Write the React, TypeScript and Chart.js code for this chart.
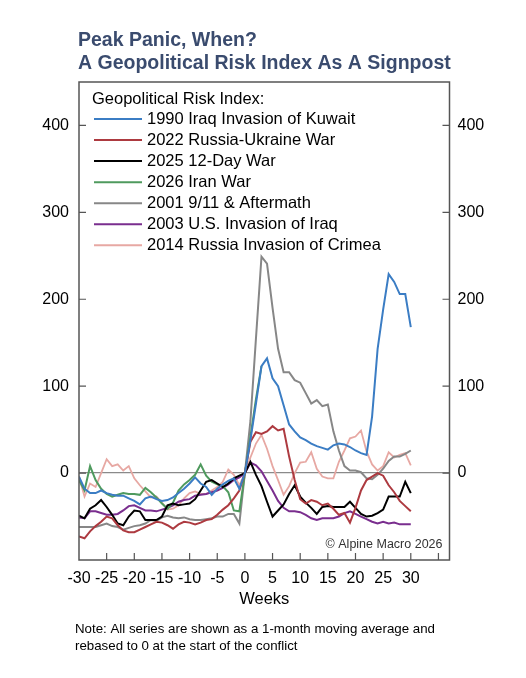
import { useEffect, useRef } from "react"
import React from "react"
import { Chart, registerables } from "chart.js"

Chart.register(...registerables)

const FONT = "'Liberation Sans', Arial, Helvetica, sans-serif"

// weeks relative to the start of each conflict
const weeks = [
    -30, -29, -28, -27, -26, -25, -24, -23, -22, -21, -20, -19, -18, -17, -16, -15,
    -14, -13, -12, -11, -10, -9, -8, -7, -6, -5, -4, -3, -2, -1, 0,
    1, 2, 3, 4, 5, 6, 7, 8, 9, 10, 11, 12, 13, 14, 15,
    16, 17, 18, 19, 20, 21, 22, 23, 24, 25, 26, 27, 28, 29, 30,
]

const kuwait1990 = [
    -4, -18, -23, -23, -20, -23, -25, -26, -26, -29, -32, -36, -29, -27, -30, -32,
    -31, -28, -23, -18, -12, -5, -12, -16, -25, -18, -13, -9, -6, -18, 0,
    38, 80, 123, 132, 109, 100, 78, 56, 48, 41, 38, 34, 31, 29, 27,
    32, 34, 33, 30, 26, 23, 21, 65, 143, 188, 229, 220, 206, 206, 168,
]
const ukraine2022 = [
    -73, -75, -67, -61, -56, -50, -52, -60, -66, -68, -68, -65, -62, -59, -56, -57,
    -60, -64, -59, -56, -57, -59, -57, -54, -53, -48, -42, -37, -29, -20, 0,
    36, 47, 45, 48, 54, 49, 51, 19, -8, -30, -35, -31, -33, -37, -35,
    -41, -48, -46, -57, -40, -20, -8, -4, 0, -3, -14, -22, -32, -38, -44,
]
const twelveDay2025 = [
    -49, -52, -41, -37, -31, -39, -48, -58, -60, -50, -43, -44, -54, -54, -54, -50,
    -37, -35, -37, -36, -35, -30, -20, -10, -8, -12, -16, -12, -6, -3, 0,
    13, -2, -15, -33, -50, -43, -36, -24, -14, -27, -34, -40, -47, -39, -38,
    -39, -39, -39, -33, -40, -47, -50, -49, -46, -42, -27, -27, -27, -10, -23,
]
const iran2026 = [
    -8, -20, 8, -8, -18, -24, -27, -25, -23, -24, -24, -25, -17, -22, -28, -35,
    -41, -34, -20, -13, -8, -2, 10, -3, -10, -13, -15, -22, -43, -44, 0,
    42, 85, 123,
]
const sept2001 = [
    -62, -62, -62, -62, -60, -58, -61, -62, -65, -63, -61, -60, -58, -54, -55, -51,
    -49, -51, -52, -51, -53, -54, -54, -53, -52, -50, -50, -47, -47, -58, 0,
    60, 155, 249, 241, 190, 143, 116, 116, 107, 104, 92, 80, 84, 77, 79,
    48, 26, 8, 3, 3, 1, -6, -7, -2, 5, 14, 19, 19, 22, 26,
]
const iraq2003 = [
    -51, -52, -44, -44, -46, -48, -48, -47, -43, -38, -37, -40, -43, -43, -44, -42,
    -40, -37, -33, -31, -30, -26, -25, -24, -22, -20, -17, -13, -8, -5, 0,
    12, 9, 2, -9, -20, -32, -40, -44, -44, -45, -48, -52, -54, -52, -52,
    -52, -50, -46, -44, -47, -50, -53, -56, -58, -56, -58, -57, -59, -59, -59,
]
const crimea2014 = [
    -4, -27, -12, -16, 0, 16, 8, 10, 3, 8, -6, -14, -21, -28, -27, -34,
    -42, -41, -37, -29, -23, -21, -24, -24, -20, -16, -10, 4, -2, -14, 0,
    18, 34, 44, 28, 8, -8, -25, -15, 0, 12, 13, 24, 5, -4, -6,
    -6, 13, 26, 40, 42, 49, 25, 10, 3, 8, 24, 18, 21, 23, 9,
]

const seriesLabels = [
    "1990 Iraq Invasion of Kuwait",
    "2022 Russia-Ukraine War",
    "2025 12-Day War",
    "2026 Iran War",
    "2001 9/11 & Aftermath",
    "2003 U.S. Invasion of Iraq",
    "2014 Russia Invasion of Crimea",
]
const seriesValues = [kuwait1990, ukraine2022, twelveDay2025, iran2026, sept2001, iraq2003, crimea2014]
const seriesColors = ["#3b7dc4", "#ad3a40", "#000000", "#4f9a5e", "#878787", "#7a2e8e", "#e7a8a3"]

const yTicks = [0, 100, 200, 300, 400]
const xTicks = [-25, -20, -15, -10, -5, 0, 5, 10, 15, 20, 25, 30, 35]

const titleLines = ["Peak Panic, When?", "A Geopolitical Risk Index As A Signpost"]
const noteLines = [
    "Note: All series are shown as a 1-month moving average and",
    "rebased to 0 at the start of the conflict",
]

const decorations = {
    id: "decorations",
    afterDraw(chart: Chart) {
        const { ctx, chartArea } = chart
        const { left, right, top, bottom } = chartArea
        const xs = chart.scales.x
        const ys = chart.scales.y
        ctx.save()

        // frame
        ctx.strokeStyle = "#555555"
        ctx.lineWidth = 1.5
        ctx.strokeRect(left, top, right - left, bottom - top)

        // inward tick marks
        ctx.lineWidth = 1.2
        ctx.beginPath()
        xTicks.forEach(v => {
            const px = xs.getPixelForValue(v)
            ctx.moveTo(px, bottom)
            ctx.lineTo(px, bottom - 7)
        })
        yTicks.forEach(v => {
            const py = ys.getPixelForValue(v)
            ctx.moveTo(left, py)
            ctx.lineTo(left + 7, py)
            ctx.moveTo(right, py)
            ctx.lineTo(right - 7, py)
        })
        ctx.stroke()

        // title
        ctx.fillStyle = "#3a4b6e"
        ctx.font = `bold 19.5px ${FONT}`
        ctx.textAlign = "left"
        ctx.textBaseline = "alphabetic"
        ctx.fillText(titleLines[0], 78, 46)
        ctx.fillText(titleLines[1], 78, 69)

        // legend inside plot
        ctx.fillStyle = "#000"
        ctx.font = `16.5px ${FONT}`
        ctx.fillText("Geopolitical Risk Index:", left + 13, top + 22)
        ctx.textBaseline = "middle"
        chart.data.datasets.forEach((ds, i) => {
            const y = top + 37 + i * 21.05
            ctx.strokeStyle = ds.borderColor as string
            ctx.lineWidth = 2
            ctx.beginPath()
            ctx.moveTo(left + 15, y)
            ctx.lineTo(left + 63, y)
            ctx.stroke()
            ctx.fillStyle = "#000"
            ctx.fillText(ds.label as string, left + 68, y)
        })

        // copyright
        ctx.fillStyle = "#333"
        ctx.font = `12.5px ${FONT}`
        ctx.textAlign = "right"
        ctx.fillText("\u00a9 Alpine Macro 2026", right - 7, bottom - 15)

        // note
        ctx.fillStyle = "#000"
        ctx.font = `13.3px ${FONT}`
        ctx.textAlign = "left"
        ctx.fillText(noteLines[0], 75, 629)
        ctx.fillText(noteLines[1], 75, 646)
        ctx.restore()
    },
}

const RiskChart: React.FC = () => {
    const canvasRef = useRef<HTMLCanvasElement>(null)
    const chartRef = useRef<Chart>()

    useEffect(() => {
        if (!canvasRef.current) return
        const ctx = canvasRef.current.getContext("2d")
        if (!ctx) return

        chartRef.current = new Chart(ctx, {
            type: "line",
            data: {
                datasets: seriesLabels.map((label, i) => ({
                    label,
                    data: seriesValues[i].map((v, j) => ({ x: weeks[j], y: v })),
                    borderColor: seriesColors[i],
                    backgroundColor: seriesColors[i],
                    borderWidth: i === 6 ? 1.8 : 2,
                    pointRadius: 0,
                    tension: 0,
                    fill: false,
                })),
            },
            options: {
                responsive: false,
                animation: false,
                layout: { padding: { top: 82, bottom: 68, left: 0, right: 0 } },
                plugins: {
                    legend: { display: false },
                    tooltip: { enabled: false },
                },
                scales: {
                    x: {
                        type: "linear",
                        min: -30,
                        max: 37,
                        border: { display: false },
                        grid: { display: false },
                        ticks: {
                            stepSize: 5,
                            includeBounds: false,
                            autoSkip: false,
                            maxRotation: 0,
                            padding: 1,
                            color: "#000",
                            font: { family: FONT, size: 16 },
                            callback: v => (Number(v) <= 30 ? String(v) : ""),
                        },
                        title: {
                            display: true,
                            text: "Weeks",
                            color: "#000",
                            padding: { top: 0, bottom: 1 },
                            font: { family: FONT, size: 16.5 },
                        },
                        afterFit: s => { s.height = 50 },
                    },
                    y: {
                        position: "left",
                        min: -100,
                        max: 450,
                        border: { display: false },
                        grid: {
                            drawTicks: false,
                            color: c => (c.tick && c.tick.value === 0 ? "#8a8a8a" : "rgba(0,0,0,0)"),
                            lineWidth: 1.2,
                        },
                        ticks: {
                            stepSize: 100,
                            includeBounds: false,
                            padding: 10,
                            color: "#000",
                            font: { family: FONT, size: 16 },
                            callback: v => (Number(v) >= 0 ? String(v) : ""),
                        },
                        afterFit: s => { s.width = 79 },
                    },
                    y2: {
                        position: "right",
                        min: -100,
                        max: 450,
                        border: { display: false },
                        grid: { display: false, drawTicks: false },
                        ticks: {
                            stepSize: 100,
                            includeBounds: false,
                            padding: 8,
                            color: "#000",
                            font: { family: FONT, size: 16 },
                            callback: v => (Number(v) >= 0 ? String(v) : ""),
                        },
                        afterFit: s => { s.width = 76.5 },
                    },
                },
            },
            plugins: [decorations],
        })

        return () => {
            if (chartRef.current) {
                chartRef.current.destroy()
            }
        }
    }, [])

    return <canvas ref={canvasRef} width={526} height={678} style={{ display: "block" }} />
}

export default function App() {
    return (
        <div style={{ position: "absolute", left: 0, top: 0, width: 526, height: 678, background: "#fff" }}>
            <RiskChart />
        </div>
    )
}
